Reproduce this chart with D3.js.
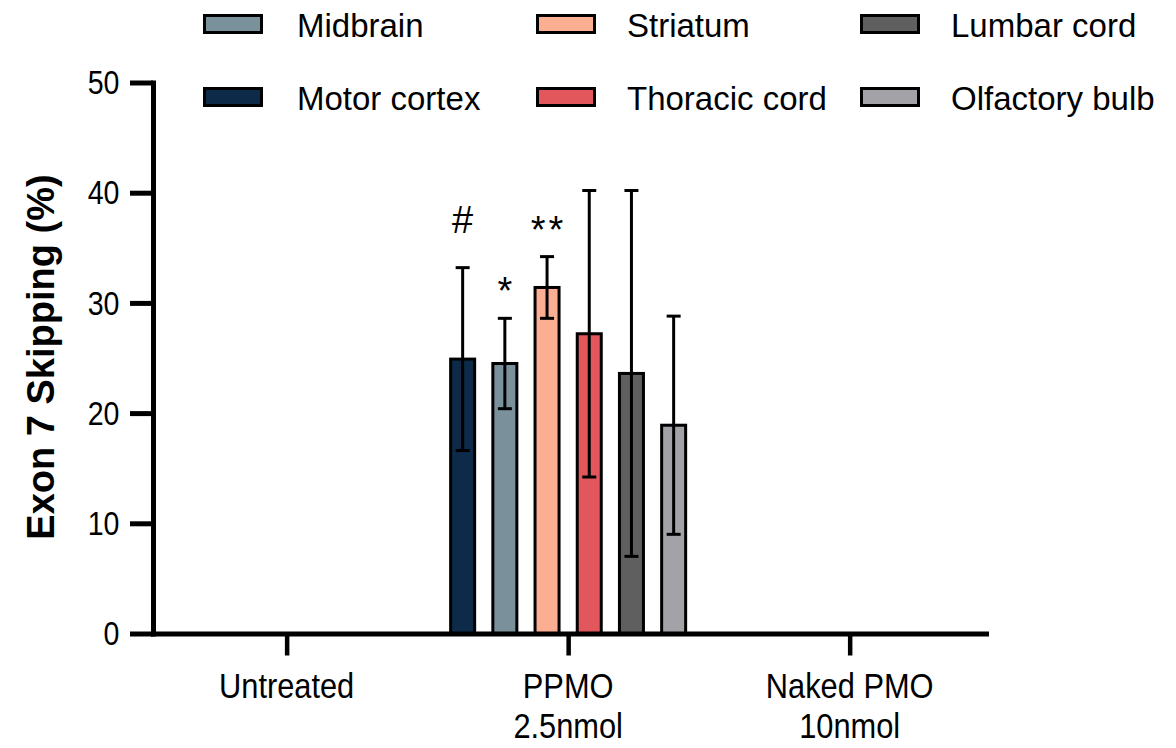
<!DOCTYPE html>
<html>
<head>
<meta charset="utf-8">
<script src="https://cdn.jsdelivr.net/npm/d3@7"></script>
<style>
  html, body { margin: 0; padding: 0; background: #fff; }
  svg { display: block; font-family: "Liberation Sans", Arial, sans-serif; }
</style>
</head>
<body>
<svg id="chart" width="1176" height="748"></svg>
<script>
// ---- data ----
const categories = ["Untreated", "PPMO\n2.5nmol", "Naked PMO\n10nmol"];
const series = ["Motor cortex", "Midbrain", "Striatum", "Thoracic cord", "Lumbar cord", "Olfactory bulb"];
const seriesColors = ["#0d2b48", "#7a909b", "#fcae93", "#e2575c", "#5f5f5f", "#a3a2a6"];
// mean values per series, one per category
const meanMotorCortex  = [0, 24.9, 0];
const meanMidbrain     = [0, 24.5, 0];
const meanStriatum     = [0, 31.4, 0];
const meanThoracic     = [0, 27.2, 0];
const meanLumbar       = [0, 23.6, 0];
const meanOlfactory    = [0, 18.9, 0];
// error (SD) per series, one per category
const errMotorCortex   = [0, 8.3, 0];
const errMidbrain      = [0, 4.1, 0];
const errStriatum      = [0, 2.8, 0];
const errThoracic      = [0, 13.0, 0];
const errLumbar        = [0, 16.6, 0];
const errOlfactory     = [0, 9.9, 0];
// significance marks (PPMO group)
const marks = ["#", "*", "**", "", "", ""];
const yTicks = [0, 10, 20, 30, 40, 50];
const yLabel = "Exon 7 Skipping (%)";
// legend order (rows)
const legendRows = [["Midbrain", "Striatum", "Lumbar cord"], ["Motor cortex", "Thoracic cord", "Olfactory bulb"]];

const means = [meanMotorCortex, meanMidbrain, meanStriatum, meanThoracic, meanLumbar, meanOlfactory];
const errs  = [errMotorCortex, errMidbrain, errStriatum, errThoracic, errLumbar, errOlfactory];

// ---- layout ----
const svg = d3.select("#chart");
const xLeft = 153, xRight = 986, yBottom = 633.5, yTop = 82.5;

const y = d3.scaleLinear().domain([0, 50]).range([yBottom, yTop]);
const x0 = d3.scalePoint().domain(categories).range([xLeft, xRight]).padding(0.4795).align(0.495);
const x1 = d3.scaleBand().domain(series).range([-126.6, 126.6]).paddingInner(0.36).paddingOuter(0.18);
const color = d3.scaleOrdinal().domain(series).range(seriesColors);

// bars
const barData = [];
categories.forEach((c, ci) => {
  series.forEach((s, si) => {
    barData.push({ c, s, v: means[si][ci], e: errs[si][ci], m: ci === 1 ? marks[si] : "" });
  });
});
const shown = barData.filter(d => d.v > 0);

svg.append("g").selectAll("rect").data(shown).join("rect")
  .attr("x", d => x0(d.c) + x1(d.s) + 1.5)
  .attr("width", x1.bandwidth() - 3)
  .attr("y", d => y(d.v))
  .attr("height", d => y(0) - y(d.v))
  .attr("fill", d => color(d.s))
  .attr("stroke", "#000")
  .attr("stroke-width", 3);

// error bars
const eg = svg.append("g").attr("stroke", "#000").attr("stroke-width", 3);
shown.forEach(d => {
  const cx = x0(d.c) + x1(d.s) + x1.bandwidth() / 2;
  eg.append("line").attr("x1", cx).attr("x2", cx).attr("y1", y(d.v + d.e)).attr("y2", y(d.v - d.e));
  eg.append("line").attr("x1", cx - 7).attr("x2", cx + 7).attr("y1", y(d.v + d.e)).attr("y2", y(d.v + d.e));
  eg.append("line").attr("x1", cx - 7).attr("x2", cx + 7).attr("y1", y(d.v - d.e)).attr("y2", y(d.v - d.e));
});

// significance marks
shown.filter(d => d.m).forEach(d => {
  const cx = x0(d.c) + x1(d.s) + x1.bandwidth() / 2;
  const isHash = d.m === "#";
  svg.append("text")
    .attr("x", cx + (d.m === "**" ? 1.5 : 0))
    .attr("y", y(d.v + d.e) - (isHash ? 35 : 14))
    .attr("text-anchor", "middle")
    .attr("font-size", isHash ? 38 : 38)
    .attr("letter-spacing", d.m === "**" ? 3 : 0)
    .attr("fill", "#000")
    .text(d.m);
});

// y axis
const yAxis = svg.append("g").attr("transform", `translate(${xLeft},0)`)
  .call(d3.axisLeft(y).tickValues(yTicks).tickSize(23).tickSizeOuter(0).tickPadding(10.7));
yAxis.select(".domain").attr("stroke-width", 5).attr("stroke-linecap", "square");
yAxis.selectAll(".tick line").attr("stroke-width", 5);
yAxis.selectAll(".tick text")
  .attr("x", 0).attr("dy", null)
  .attr("transform", `translate(${-(23 + 10.5)},11.2) scale(0.84,1)`)
  .attr("font-size", 34).attr("font-family", "Liberation Sans, Arial, sans-serif").attr("fill", "#000");

// x axis
const xAxis = svg.append("g").attr("transform", `translate(0,${yBottom})`)
  .call(d3.axisBottom(x0).tickSize(22).tickSizeOuter(0).tickFormat(""));
xAxis.select(".domain").attr("stroke-width", 5).attr("stroke-linecap", "square");
xAxis.selectAll(".tick line").attr("stroke-width", 4.5);

// category labels
categories.forEach(c => {
  const lines = c.split("\n");
  lines.forEach((ln, i) => {
    svg.append("text")
      .attr("transform", `translate(${x0(c)},${697.7 + i * 40}) scale(0.88,1)`)
      .attr("text-anchor", "middle")
      .attr("font-size", 35)
      .attr("fill", "#000")
      .text(ln);
  });
});

// y label
svg.append("text")
  .attr("transform", `translate(54,357) rotate(-90)`)
  .attr("text-anchor", "middle")
  .attr("font-size", 38)
  .attr("font-weight", "bold")
  .attr("fill", "#000")
  .text(yLabel);

// legend
const colSwatch = [203, 536, 860], colText = [297, 627, 951];
const rowTop = [14, 87];
legendRows.forEach((row, ri) => {
  row.forEach((name, ci) => {
    svg.append("rect")
      .attr("x", colSwatch[ci] + 1.5).attr("y", rowTop[ri] + 1.5)
      .attr("width", 57).attr("height", 17)
      .attr("fill", color(name)).attr("stroke", "#000").attr("stroke-width", 3);
    svg.append("text")
      .attr("x", colText[ci]).attr("y", rowTop[ri] + 23.3)
      .attr("font-size", 33)
      .attr("fill", "#000")
      .text(name);
  });
});
</script>
</body>
</html>
